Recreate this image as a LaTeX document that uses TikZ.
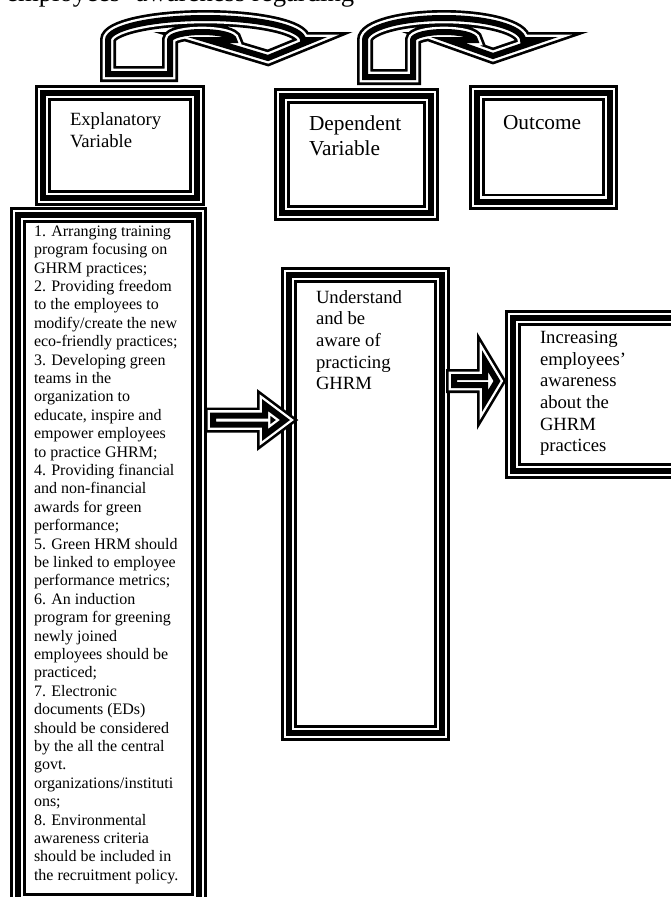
\documentclass[tikz,border=0pt]{standalone}
\usepackage{fontspec}
\setmainfont{Liberation Serif}
\begin{document}
\begin{tikzpicture}[x=0.75pt,y=-0.75pt,
    box node/.style={anchor=north west, line join=miter,
        preaction={fill=white},
        preaction={draw=black,line width=12pt},
        preaction={draw=white,line width=8pt},
        draw=black, line width=4.5pt},
    arrow line/.style={line join=miter,
        preaction={draw=black,line width=12pt},
        preaction={draw=white,line width=8pt},
        draw=black, line width=4.5pt},
    ]
\useasboundingbox (0,0) rectangle (671,897);
\clip (0,0) rectangle (671,897);

% line of the page text, cut by the top edge
\node[anchor=base west, inner sep=0, font=\fontsize{20pt}{24pt}\selectfont] (pagetext) at (6,1) {employees' awareness regarding};

% heading boxes
\node[box node, inner xsep=20.25pt, inner ysep=14.6pt, font=\fontsize{14pt}{16.25pt}\selectfont] (expl) at (40,90)
    {\parbox[t][49.5pt][t]{75pt}{\raggedright Explanatory\\Variable}};
\node[box node, inner xsep=20.25pt, inner ysep=14.6pt, font=\fontsize{16pt}{18.75pt}\selectfont] (dep) at (279,93)
    {\parbox[t][58.5pt][t]{71.25pt}{\raggedright Dependent\\Variable}};
\node[box node, inner xsep=19.5pt, inner ysep=16.8pt, font=\fontsize{16pt}{18.75pt}\selectfont] (out) at (474,90)
    {\parbox[t][48pt][t]{60.75pt}{\raggedright Outcome}};

% content boxes
\node[box node, inner xsep=12pt, inner ysep=8.1pt, font=\fontsize{12pt}{13.8pt}\selectfont] (list) at (15,212)
    {\parbox[t][498.3pt][t]{111.75pt}{\raggedright
    1. Arranging training\\
    program focusing on\\
    GHRM practices;\\
    2. Providing freedom\\
    to the employees to\\
    modify/create the new\\
    eco-friendly practices;\\
    3. Developing green\\
    teams in the\\
    organization to\\
    educate, inspire and\\
    empower employees\\
    to practice GHRM;\\
    4. Providing financial\\
    and non-financial\\
    awards for green\\
    performance;\\
    5. Green HRM should\\
    be linked to employee\\
    performance metrics;\\
    6. An induction\\
    program for greening\\
    newly joined\\
    employees should be\\
    practiced;\\
    7. Electronic\\
    documents (EDs)\\
    should be considered\\
    by the all the central\\
    govt.\\
    organizations/instituti\\
    ons;\\
    8. Environmental\\
    awareness criteria\\
    should be included in\\
    the recruitment policy.}};
\node[box node, inner xsep=20.25pt, inner ysep=11.4pt, font=\fontsize{14pt}{16.25pt}\selectfont] (mid) at (286,272)
    {\parbox[t][320.7pt][t]{74.25pt}{\raggedright Understand\\and be\\aware of\\practicing\\GHRM}};
\node[box node, inner xsep=20.25pt, inner ysep=9.9pt, font=\fontsize{14pt}{16.25pt}\selectfont] (res) at (510,315)
    {\parbox[t][94.9pt][t]{87pt}{\raggedright Increasing\\employees'\\awareness\\about the\\GHRM\\practices}};

% block arrows
\coordinate (a1) at (213,420);
\coordinate (a2) at (454,381);
\draw[arrow line] (a1) ++(0,-4.5) -- ++(52,0) -- ++(0,-10.5) -- ++(20,15) -- ++(-20,15) -- ++(0,-10.5) -- ++(-52,0) -- cycle;
\draw[arrow line] (a2) ++(0,-4) -- ++(31,0) -- ++(0,-16) -- ++(12,20) -- ++(-12,20) -- ++(0,-16) -- ++(-31,0) -- cycle;

% curved arrows on top of the heading boxes
\coordinate (c1) at (108,74);
\coordinate (c2) at (365,77);
\draw[arrow line] (c1) -- (108,40) arc[start angle=180, end angle=0, x radius=73.125pt, y radius=16.5pt]
    -- (312,40) -- (268,58) -- (208,40) -- (234,40)
    arc[start angle=0, end angle=180, x radius=24pt, y radius=6pt] -- (170,74) -- cycle;
\draw[arrow line] (c2) -- (365,40) arc[start angle=180, end angle=0, x radius=59.25pt, y radius=16.5pt]
    -- (540,40) -- (493,56) -- (448,40) -- (475,40)
    arc[start angle=0, end angle=180, x radius=23.25pt, y radius=6pt] -- (413,77) -- cycle;
\end{tikzpicture}
\end{document}
